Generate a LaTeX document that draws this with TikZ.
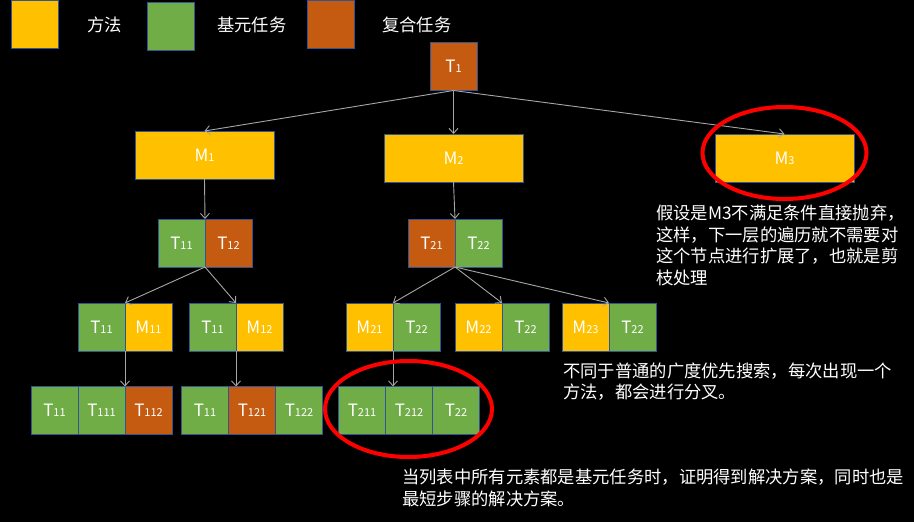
\documentclass[tikz,border=0pt]{standalone}
\usepackage{fontspec}
\setmainfont{Noto Sans CJK SC}
\usetikzlibrary{positioning,arrows.meta}
\definecolor{methcol}{HTML}{FFC000}
\definecolor{primcol}{HTML}{70AD47}
\definecolor{compcol}{HTML}{C55A11}
\definecolor{edgecol}{HTML}{2F5597}
\definecolor{linkcol}{HTML}{A6A6A6}
\newcommand{\nm}[2]{#1{\fontsize{11}{11}\selectfont #2}}
\begin{document}
\begin{tikzpicture}[x=1pt,y=-1pt,>={Straight Barb[length=5pt,width=9pt]},
  cell/.style={draw=edgecol,line width=1pt,minimum width=47,minimum height=48,inner sep=0,outer sep=0,text=white,font=\fontsize{17}{17}\selectfont},
  meth/.style={cell,fill=methcol},
  prim/.style={cell,fill=primcol},
  comp/.style={cell,fill=compcol},
  wide/.style={minimum width=139},
  link/.style={->,draw=linkcol,line width=0.9pt},
  ring/.style={draw=red,line width=4pt},
  note/.style={text=white,align=left,anchor=west,inner sep=0,font=\fontsize{17.3}{21.7}\selectfont}]
\fill[black] (0,0) rectangle (914,522);
\node[meth] (lm) at (34.5,24.5) {};
\node[note] (lmt) at (87,25) {方法};
\node[prim] (lp) at (170.5,26) {};
\node[note] (lpt) at (217,25) {基元任务};
\node[comp] (lc) at (330.5,24.5) {};
\node[note] (lct) at (382,25) {复合任务};
\node[comp] (t1) at (453.5,66.5) {\nm{T}{1}};
\node[meth,wide] (m1) at (204.5,155) {\nm{M}{1}};
\node[meth,wide] (m2) at (453.5,158) {\nm{M}{2}};
\node[meth,wide] (m3) at (784.5,158) {\nm{M}{3}};
\node[prim] (p11) at (181.5,243) {\nm{T}{11}};
\node[comp,right=0pt of p11] (p12) {\nm{T}{12}};
\node[comp] (q21) at (431.5,243) {\nm{T}{21}};
\node[prim,right=0pt of q21] (q22) {\nm{T}{22}};
\node[prim] (a1) at (101.5,327) {\nm{T}{11}};
\node[meth,right=0pt of a1] (a2) {\nm{M}{11}};
\node[prim] (b1) at (212.5,327) {\nm{T}{11}};
\node[meth,right=0pt of b1] (b2) {\nm{M}{12}};
\node[meth] (c1) at (369.5,327) {\nm{M}{21}};
\node[prim,right=0pt of c1] (c2) {\nm{T}{22}};
\node[meth] (d1) at (478.5,327) {\nm{M}{22}};
\node[prim,right=0pt of d1] (d2) {\nm{T}{22}};
\node[meth] (e1) at (585.5,327) {\nm{M}{23}};
\node[prim,right=0pt of e1] (e2) {\nm{T}{22}};
\node[prim] (f1) at (54.5,410.5) {\nm{T}{11}};
\node[prim,right=0pt of f1] (f2) {\nm{T}{111}};
\node[comp,right=0pt of f2] (f3) {\nm{T}{112}};
\node[prim] (g1) at (205,410.5) {\nm{T}{11}};
\node[comp,right=0pt of g1] (g2) {\nm{T}{121}};
\node[prim,right=0pt of g2] (g3) {\nm{T}{122}};
\node[prim] (h1) at (362,410.5) {\nm{T}{211}};
\node[prim,right=0pt of h1] (h2) {\nm{T}{212}};
\node[prim,right=0pt of h2] (h3) {\nm{T}{22}};
\draw[link] (t1.south) -- (m1.north);
\draw[link] (t1.south) -- (m2.north);
\draw[link] (t1.south) -- (m3.north);
\draw[link] (m1.south) -- (p11.north east);
\draw[link] (m2.south) -- (q21.north east);
\draw[link] (p11.south east) -- (a1.north east);
\draw[link] (p11.south east) -- (b1.north east);
\draw[link] (q21.south east) -- (c1.north east);
\draw[link] (q21.south east) -- (d1.north east);
\draw[link] (q21.south east) -- (e1.north east);
\draw[link] (a1.south east) -- (a1.south east |- f3.north);
\draw[link] (b1.south east) -- (b1.south east |- g2.north);
\draw[link] (c1.south east) -- (c1.south east |- h2.north);
\draw[ring] (784.5,153) ellipse (82pt and 46pt);
\draw[ring] (408.5,409) ellipse (83.5pt and 48pt);
\node[note] (n1) at (656,245.5) {假设是M3不满足条件直接抛弃，\\这样，下一层的遍历就不需要对\\这个节点进行扩展了，也就是剪\\枝处理};
\node[note] (n2) at (563,381.5) {不同于普通的广度优先搜索，每次出现一个\\方法，都会进行分叉。};
\node[note] (n3) at (402,488) {当列表中所有元素都是基元任务时，证明得到解决方案，同时也是\\最短步骤的解决方案。};
\end{tikzpicture}
\end{document}
